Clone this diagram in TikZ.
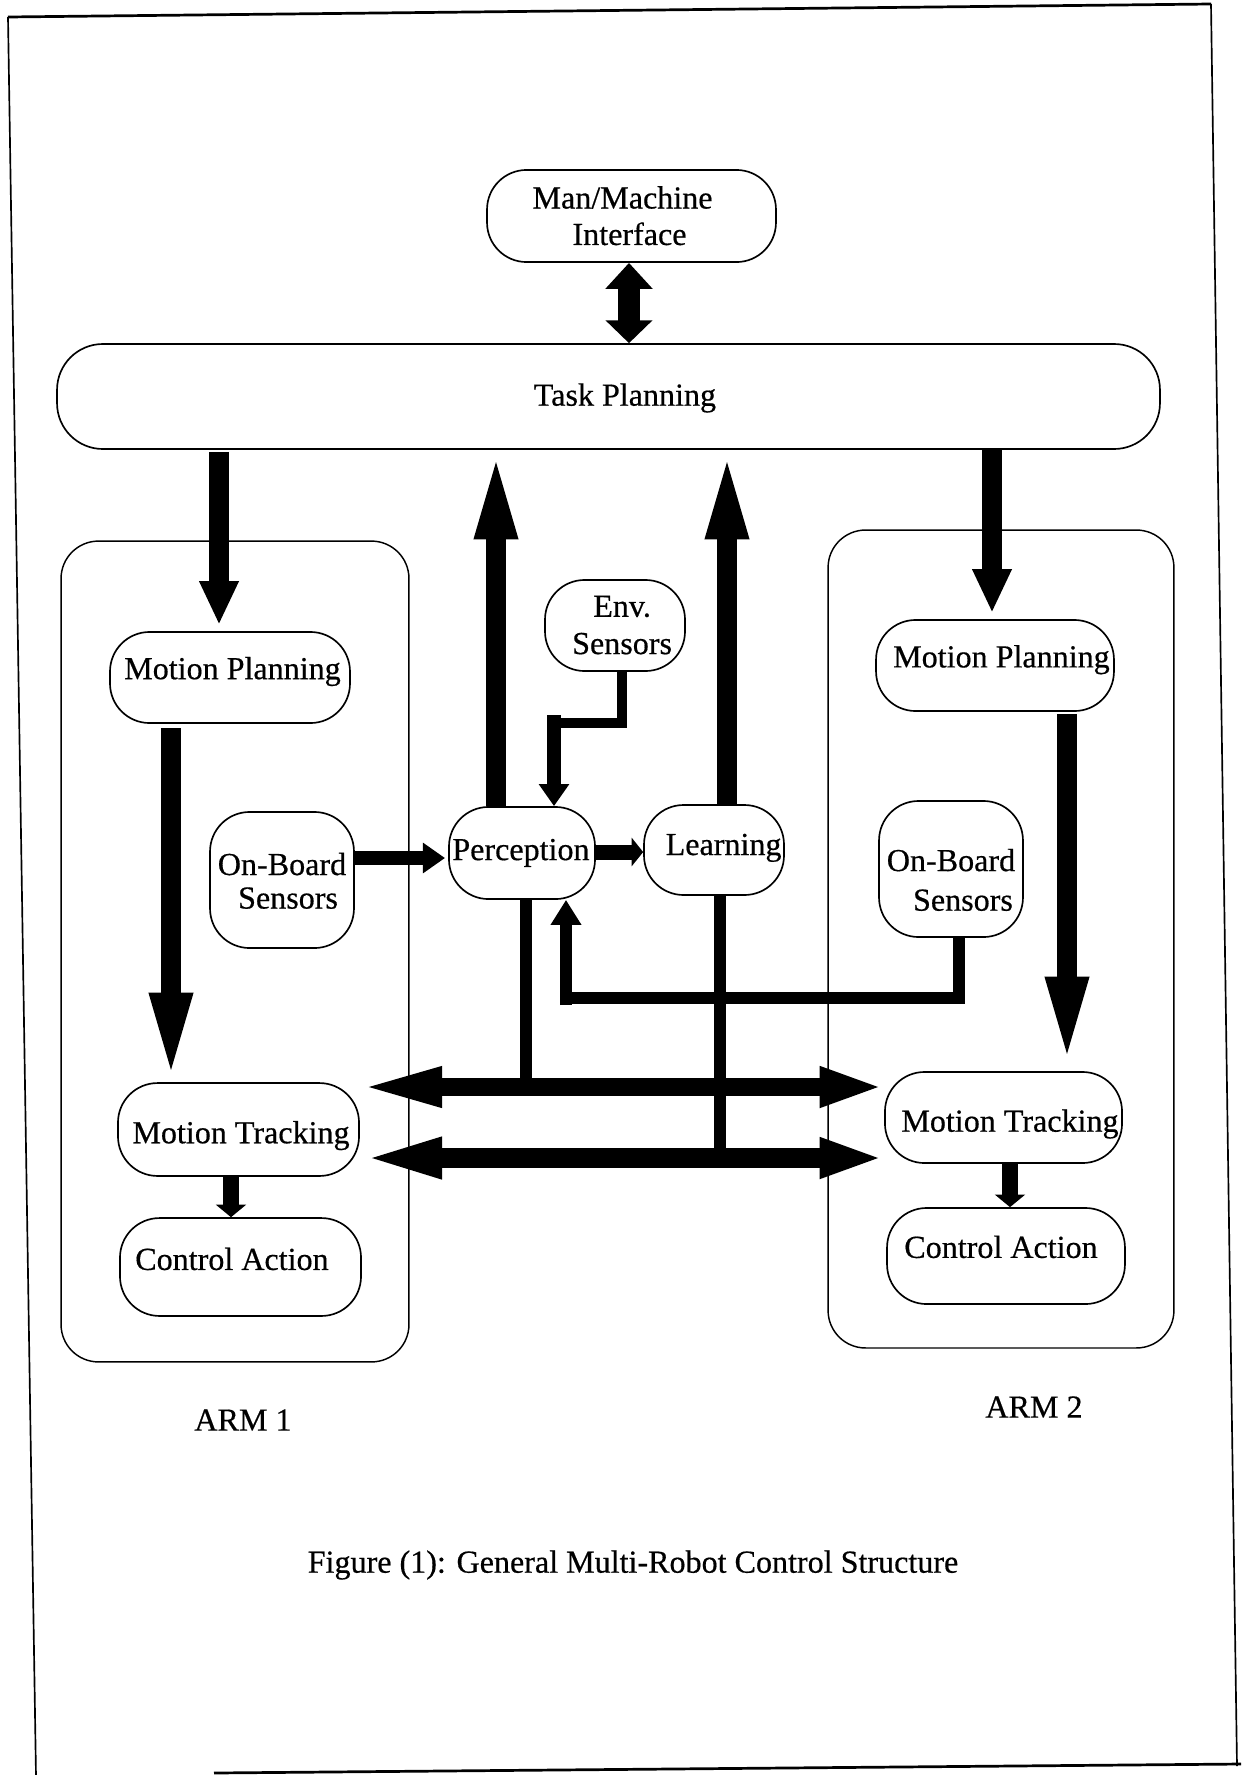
\documentclass[tikz,border=0pt]{standalone}
\usepackage{fontspec}
\setmainfont{Liberation Serif}[FakeBold=0.5]
\usetikzlibrary{arrows.meta}
% #1 = twice the horizontal shift, #2 = baseline raise, #3 = text
\newcommand\lbl[3]{\makebox[0pt]{\hspace*{#1}\raisebox{#2}[0pt][0pt]{#3}}}
% two-line text: #1 shift, #2 raise, #3 line 1, #4 extra gap, #5 shift of line 2, #6 line 2
\newcommand\twol[6]{\makebox[0pt]{\hspace*{#1}\raisebox{#2}[0pt][0pt]{\begin{tabular}[t]{@{}c@{}}#3\\[#4]\hspace*{#5}#6\end{tabular}}}}
\begin{document}
\begin{tikzpicture}[x=0.48pt,y=-0.48pt,
  every node/.style={font=\fontsize{15.4pt}{17.3pt}\selectfont},
  box/.style={draw,line width=0.8pt,rounded corners=19pt,inner sep=0pt},
  armbox/.style={draw,line width=0.7pt,rounded corners=18pt,inner sep=0pt},
  bar/.style={line width=#1},
  shortdn/.style={line width=9.4pt,-{Triangle[length=21pt,width=17.5pt]}},
  longarr/.style={line width=9.3pt,-{Triangle[length=43pt,width=18.2pt]}},
  smallarr/.style={line width=6.7pt,-{Triangle[length=10.6pt,width=14pt]}},
  stubarr/.style={line width=7.4pt,-{Triangle[length=6pt,width=14.2pt]}},
  busarr/.style={{Triangle[length=41pt,width=17pt]}-{Triangle[length=31pt,width=17.5pt]}}
]
\fill[white] (0,0) rectangle (1241,1775);
\useasboundingbox (0,0) rectangle (1241,1775);

% page frame (scanned, slightly rotated)
\coordinate (ftl) at (8,17);
\coordinate (ftr) at (1211,4);
\coordinate (fbl) at (36,1776);
\coordinate (fblb) at (214,1773);
\coordinate (fbr) at (1241,1764);
\coordinate (fbrr) at (1237,1766);
\draw[line width=1.3pt] (ftl) -- (ftr);
\draw[line width=0.8pt] (ftl) -- (fbl);
\draw[line width=0.8pt] (ftr) -- (fbrr);
\draw[line width=1.3pt] (fblb) -- (fbr);

% nodes
\node[box,minimum width=138.7pt,minimum height=44.2pt] (mmi) at (631.5,216)
  {\twol{-8.6pt}{3.6pt}{Man/Machine}{0.2pt}{6.7pt}{Interface}};
\node[box,rounded corners=22pt,minimum width=529.4pt,minimum height=50.4pt] (tp) at (608.5,396.5)
  {\lbl{15.8pt}{-4.4pt}{Task Planning}};

\node[armbox,minimum width=167pt,minimum height=394pt] (arm1) at (235,951.5) {};
\node[armbox,minimum width=166pt,minimum height=392.6pt] (arm2) at (1001,939) {};

\node[box,minimum width=115.2pt,minimum height=43.7pt] (mp1) at (230,677.5)
  {\lbl{2.4pt}{-0.8pt}{Motion Planning}};
\node[box,minimum width=114.2pt,minimum height=43.7pt] (mp2) at (995,665.5)
  {\lbl{6.2pt}{-0.9pt}{Motion Planning}};
\node[box,minimum width=69.1pt,minimum height=65.3pt] (ob1) at (282,880)
  {\twol{0pt}{2.4pt}{On-Board}{-1.2pt}{5.8pt}{Sensors}};
\node[box,minimum width=69.1pt,minimum height=65.3pt] (ob2) at (951,869)
  {\twol{0pt}{-1pt}{On-Board}{1.7pt}{11.5pt}{Sensors}};
\node[box,minimum width=67.2pt,minimum height=43.7pt] (env) at (615,625.5)
  {\twol{6.8pt}{4.2pt}{Env.}{0.6pt}{0pt}{Sensors}};
\node[box,minimum width=70.1pt,minimum height=44.2pt] (per) at (522,853)
  {\lbl{-1pt}{-3.4pt}{Perception}};
\node[box,minimum width=67.2pt,minimum height=43.2pt] (lrn) at (714,850)
  {\lbl{9.2pt}{-2.4pt}{Learning}};
\node[box,minimum width=115.7pt,minimum height=44.6pt] (mt1) at (238.5,1129.5)
  {\lbl{2.4pt}{-6.6pt}{Motion Tracking}};
\node[box,minimum width=113.8pt,minimum height=43.7pt] (mt2) at (1003.5,1117.5)
  {\lbl{6.2pt}{-6.8pt}{Motion Tracking}};
\node[box,minimum width=115.7pt,minimum height=47pt] (ca1) at (240.5,1267)
  {\lbl{-8.2pt}{-1.4pt}{Control Action}};
\node[box,minimum width=114.2pt,minimum height=46.1pt] (ca2) at (1006,1256)
  {\lbl{-4.8pt}{-0.9pt}{Control Action}};

\node (arm1lbl) at (243,1420) {ARM 1};
\node (arm2lbl) at (1034,1407) {ARM 2};
\node (caption) at (633,1565) {Figure (1): General Multi-Robot Control Structure};

% Man/Machine <-> Task Planning
\draw[line width=11pt,{Triangle[length=12.5pt,width=22pt]}-{Triangle[length=11pt,width=22pt]}]
  (629,0 |- mmi.south) -- (629,0 |- tp.north);

% Task Planning -> Motion Planning
\draw[shortdn,shorten <=1pt,shorten >=3pt] (219,0 |- tp.south) -- (219,0 |- mp1.north);
\draw[shortdn,shorten >=3pt] (992,0 |- tp.south) -- (992,0 |- mp2.north);

% Motion Planning -> Motion Tracking
\draw[longarr,shorten <=2pt] (171,0 |- mp1.south) -- (171,0 |- mt1.north);
\draw[longarr,shorten <=1pt,shorten >=2.4pt] (1067,0 |- mp2.south) -- (1067,0 |- mt2.north);

% Perception / Learning -> Task Planning
\draw[longarr] (496,0 |- per.north) -- (496,0 |- tp.south);
\draw[longarr] (727,0 |- lrn.north) -- (727,0 |- tp.south);

% Env. Sensors -> Perception
\coordinate (envc) at (554,723);
\coordinate (envd) at (554,715);
\draw[bar=4.8pt] (622,0 |- env.south) |- (envc);
\draw[smallarr] (envd) -- (554,0 |- per.north);

% On-Board Sensors (arm 1) -> Perception
\draw[smallarr,shorten >=1.5pt] (ob1.east |- 0,858) -- (per.west |- 0,858);

% Perception -> Learning
\draw[line width=7.2pt,-{Triangle[length=5.5pt,width=13.4pt]}] (per.east |- 0,852) -- (lrn.west |- 0,852);

% On-Board Sensors (arm 2) -> Perception
\coordinate (obc) at (566,998);
\coordinate (obd) at (566,1005);
\draw[bar=5.3pt] (959,0 |- ob2.south) |- (obc);
\draw[line width=6.2pt,-{Triangle[length=12pt,width=14pt]}] (obd) -- (566,0 |- per.south);

% junctions into the two buses
\coordinate (j1) at (526,1087);
\coordinate (j2) at (720,1158);
\draw[bar=5.8pt] (526,0 |- per.south) -- (j1);
\draw[bar=5.3pt] (720,0 |- lrn.south) -- (j2);

% the two buses between the arms
\draw[busarr,line width=8.8pt,shorten <=-1.5pt] (mt1.east |- j1) -- (mt2.west |- j1);
\draw[busarr,line width=9.5pt,shorten <=-1.5pt] (mt1.east |- j2) -- (mt2.west |- j2);

% Motion Tracking -> Control Action
\draw[stubarr] (231,0 |- mt1.south) -- (231,0 |- ca1.north);
\draw[stubarr] (1010,0 |- mt2.south) -- (1010,0 |- ca2.north);
\end{tikzpicture}
\end{document}
